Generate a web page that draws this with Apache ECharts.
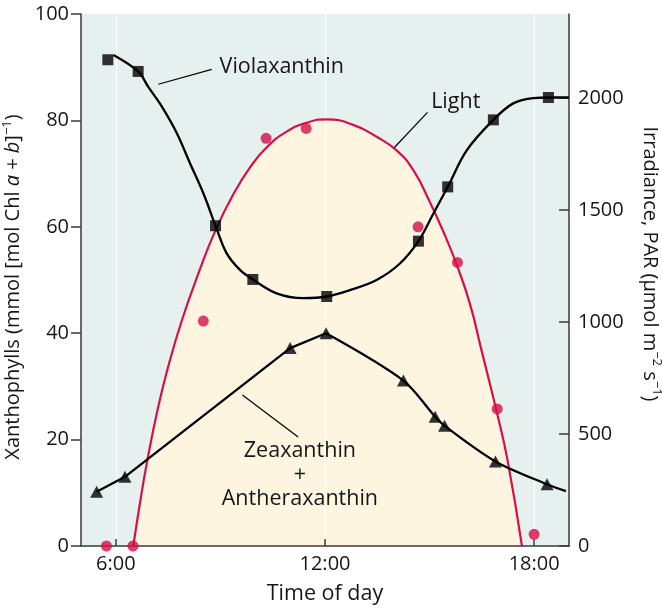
<!DOCTYPE html>
<html>
<head>
<meta charset="utf-8">
<script src="https://cdn.jsdelivr.net/npm/echarts@6/dist/echarts.min.js"></script>
<style>html,body{margin:0;padding:0;background:#fff}#c{width:662px;height:609px}</style>
</head>
<body>
<div id="c"></div>
<script>
// ---- data (hours of day) ----
var violaTimes   = [5.77, 6.64, 8.86, 9.93, 12.05, 14.68, 15.52, 16.83, 18.41];
var violaValues  = [91.4, 89.2, 60.2, 50.1, 46.9, 57.3, 67.5, 80.1, 84.3];
var violaCurveT  = [5.93, 6.64, 6.93, 7.32, 7.75, 8.13, 8.51, 8.86, 9.18, 9.56, 9.93, 10.61, 11.38, 12.05, 12.72, 13.48, 14.15, 14.68, 15.11, 15.52, 16.07, 16.83, 17.40, 17.98, 18.41, 19.0];
var violaCurveV  = [92.3, 89.2, 86.3, 82.6, 77.6, 71.9, 66.3, 60.2, 55.0, 51.9, 50.1, 47.5, 46.6, 46.9, 48.1, 50.0, 53.1, 57.3, 62.5, 67.5, 74.4, 80.1, 83.2, 84.2, 84.3, 84.3];
var zeaTimes     = [5.45, 6.26, 11.0, 12.03, 14.25, 15.16, 15.43, 16.89, 18.37];
var zeaValues    = [10.2, 13.0, 37.2, 40.0, 31.1, 24.3, 22.6, 15.9, 11.6];
var zeaEnd       = [18.91, 10.3];
var lightTimes   = [5.73, 6.49, 8.51, 10.31, 11.46, 14.67, 15.80, 16.94, 18.0];
var lightValues  = [0, 0, 1004, 1820, 1864, 1425, 1266, 612, 52];
var lightCurveT  = [6.50, 6.70, 6.90, 7.20, 7.50, 7.90, 8.40, 8.86, 9.37, 9.85, 10.33, 10.90, 11.48, 12.05, 12.81, 13.48, 14.06, 14.53, 15.01, 15.39, 15.78, 16.16, 16.48, 16.94, 17.24, 17.65];
var lightCurveV  = [0, 200, 380, 610, 800, 1010, 1230, 1410, 1570, 1690, 1780, 1850, 1890, 1905, 1880, 1827, 1765, 1679, 1535, 1405, 1255, 1080, 880, 590, 380, 0];
var timeTicks    = [6, 12, 18];
// annotations (data coordinates on the left axis)
var annoViola    = {text: 'Violaxanthin', at: [10.76, 90.1], line: [[7.22, 86.8], [8.75, 89.6]]};
var annoLight    = {text: 'Light', at: [15.75, 83.5], line: [[13.99, 74.9], [14.94, 81.5]]};
var annoZea      = {text: 'Zeaxanthin\n+\nAntheraxanthin', at: [11.28, 13.4], line: [[9.63, 28.4], [11.23, 20.5]]};

function pairs(xs, ys) { return xs.map(function (x, i) { return [x, ys[i]]; }); }

var FONT = 'Open Sans';
var TXT = '#161616';
var RED = '#d60f4a';
var AXC = '#3a3a3a';

var chart = echarts.init(document.getElementById('c'), null, {renderer: 'canvas'});

function anno(a) {
  return {
    coord: a.at, symbol: 'circle', symbolSize: 1, itemStyle: {color: 'rgba(0,0,0,0)'},
    label: {show: true, position: 'inside', formatter: a.text, color: TXT, fontFamily: FONT, fontSize: 21.5, lineHeight: 24, align: 'center'}
  };
}
function leader(a) { return [{coord: a.line[0]}, {coord: a.line[1]}]; }

var zeaAll = pairs(zeaTimes, zeaValues);
var zeaStraight = zeaAll.slice(0, 4);
var zeaCurved = zeaAll.slice(3).concat([zeaEnd]);

var option = {
  animation: false,
  textStyle: {fontFamily: FONT},
  grid: {left: 81, right: 93, top: 14, bottom: 63, show: true, backgroundColor: '#e6f0ee', borderWidth: 0, containLabel: false, outerBoundsMode: 'none'},
  xAxis: {
    type: 'value', min: 5, max: 19, z: 2,
    name: 'Time of day', nameLocation: 'middle', nameGap: 37,
    nameTextStyle: {fontFamily: FONT, fontSize: 21.5, color: TXT},
    axisLine: {show: true, lineStyle: {color: AXC, width: 1.5}},
    axisTick: {show: true, inside: true, length: 7, customValues: timeTicks, lineStyle: {color: AXC, width: 1.5}},
    axisLabel: {customValues: timeTicks, formatter: function (v) { return v + ':00'; }, fontFamily: FONT, fontSize: 20, color: TXT, margin: 8},
    splitLine: {show: true, lineStyle: {color: '#ffffff', width: 1.2}}
  },
  yAxis: [
    {
      type: 'value', min: 0, max: 100, interval: 20, position: 'left', z: 2,
      name: 'Xanthophylls (mmol [mol Chl {i|a} + {i|b}]{sup|−1})', nameLocation: 'middle', nameRotate: 90, nameGap: 50,
      nameTextStyle: {fontFamily: FONT, fontSize: 20, color: TXT, padding: [0, 14, 0, 0],
        rich: {i: {fontStyle: 'italic', fontFamily: FONT, fontSize: 20, color: TXT}, sup: {fontSize: 13, fontFamily: FONT, color: TXT, verticalAlign: 'top', lineHeight: 26}}},
      axisLine: {show: true, lineStyle: {color: AXC, width: 1.5}},
      axisTick: {show: true, inside: false, length: 10, lineStyle: {color: AXC, width: 1.5}},
      axisLabel: {fontFamily: FONT, fontSize: 20, color: TXT, margin: 12, formatter: function (v) { return String(v); }},
      splitLine: {show: false}
    },
    {
      type: 'value', min: 0, max: 2375, interval: 500, position: 'right', z: 2,
      name: 'Irradiance, PAR (μmol m{sup|−2} s{sup|−1})', nameLocation: 'middle', nameRotate: -90, nameGap: 68,
      nameTextStyle: {fontFamily: FONT, fontSize: 20, color: TXT, padding: [0, 32, 0, 0],
        rich: {sup: {fontSize: 13, fontFamily: FONT, color: TXT, verticalAlign: 'top', lineHeight: 26}}},
      axisLine: {show: true, lineStyle: {color: AXC, width: 1.5}},
      axisTick: {show: true, inside: true, length: 10, lineStyle: {color: AXC, width: 1.5}},
      axisLabel: {fontFamily: FONT, fontSize: 20, color: TXT, margin: 9, showMaxLabel: false, formatter: function (v) { return String(v); }},
      splitLine: {show: false}
    }
  ],
  series: [
    {
      name: 'LightArea', type: 'line', yAxisIndex: 1, z: 1, smooth: 0.5, symbol: 'none',
      data: pairs(lightCurveT, lightCurveV),
      lineStyle: {width: 0, opacity: 0}, areaStyle: {color: '#fdf5df', opacity: 1, origin: 'start'}
    },
    {
      name: 'Light', type: 'line', yAxisIndex: 1, z: 3, smooth: 0.5, symbol: 'none',
      data: pairs(lightCurveT, lightCurveV),
      lineStyle: {color: RED, width: 2.2}
    },
    {
      name: 'LightPts', type: 'scatter', yAxisIndex: 1, z: 6, symbol: 'circle', symbolSize: 11,
      data: pairs(lightTimes, lightValues), itemStyle: {color: RED}
    },
    {
      name: 'Violaxanthin', type: 'line', yAxisIndex: 0, z: 4, smooth: 0.35, symbol: 'none',
      data: pairs(violaCurveT, violaCurveV),
      lineStyle: {color: '#000', width: 2.3},
      markLine: {silent: true, symbol: ['none', 'none'], label: {show: false},
        lineStyle: {color: '#000', width: 1.2, type: 'solid'},
        data: [leader(annoViola), leader(annoLight), leader(annoZea)]},
      markPoint: {silent: true, data: [anno(annoViola), anno(annoLight), anno(annoZea)]}
    },
    {
      name: 'ViolaPts', type: 'scatter', yAxisIndex: 0, z: 6, symbol: 'rect', symbolSize: 11,
      data: pairs(violaTimes, violaValues), itemStyle: {color: '#000'}
    },
    {
      name: 'ZeaA', type: 'line', yAxisIndex: 0, z: 4, smooth: false, symbol: 'none',
      data: zeaStraight, lineStyle: {color: '#000', width: 2.3}
    },
    {
      name: 'ZeaB', type: 'line', yAxisIndex: 0, z: 4, smooth: 0.3, symbol: 'none',
      data: zeaCurved, lineStyle: {color: '#000', width: 2.3}
    },
    {
      name: 'ZeaPts', type: 'scatter', yAxisIndex: 0, z: 6, symbol: 'triangle', symbolSize: [13, 12],
      data: zeaAll, itemStyle: {color: '#000'}
    }
  ]
};
chart.setOption(option);
</script>
</body>
</html>
